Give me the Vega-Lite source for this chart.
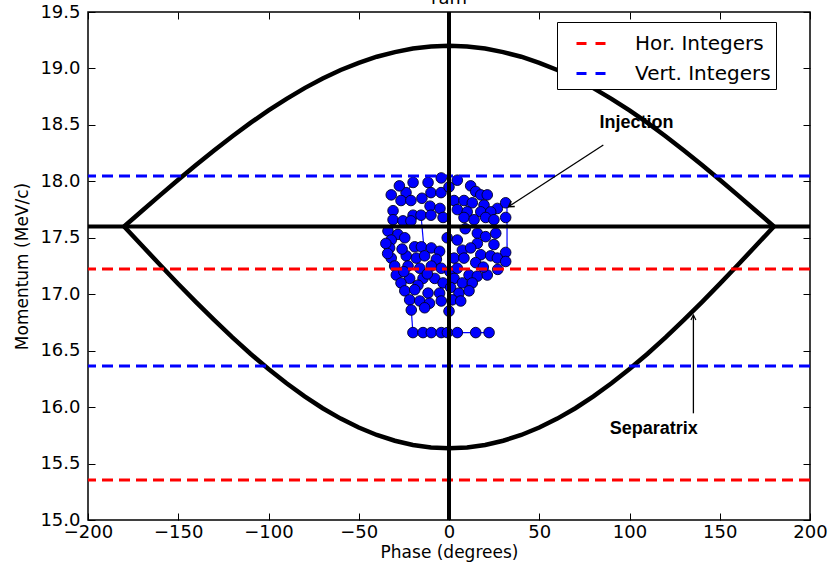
{
  "$schema": "https://vega.github.io/schema/vega-lite/v6.json",
  "width": 722,
  "height": 508,
  "autosize": "none",
  "padding": {"left": 88, "top": 12, "right": 26, "bottom": 43},
  "background": "white",
  "config": {
    "view": {"stroke": "black", "strokeWidth": 1.5},
    "scale": {"continuousPadding": 0},
    "axis": {
      "grid": false,
      "domain": false,
      "labelFlush": false,
      "labelOverlap": false,
      "labelFont": "DejaVu Sans",
      "labelFontSize": 18,
      "labelColor": "black",
      "titleFont": "DejaVu Sans",
      "titleFontSize": 17,
      "titleFontWeight": "normal",
      "titleColor": "black",
      "tickColor": "black",
      "tickWidth": 1,
      "tickSize": -7
    },
    "legend": {
      "orient": "none",
      "legendX": 469,
      "legendY": 10,
      "fillColor": "white",
      "strokeColor": "black",
      "padding": 5,
      "symbolType": "stroke",
      "symbolSize": 900,
      "symbolStrokeWidth": 3,
      "symbolDash": [10, 9],
      "symbolOffset": 13,
      "labelFont": "DejaVu Sans",
      "labelFontSize": 20,
      "labelColor": "black",
      "labelOffset": 27,
      "labelLimit": 300,
      "rowPadding": 3
    }
  },
  "datasets": {
    "sep": [
      {"phase": -180, "p": 17.6, "branch": "upper"},
      {"phase": -170, "p": 17.74, "branch": "upper"},
      {"phase": -160, "p": 17.878, "branch": "upper"},
      {"phase": -150, "p": 18.014, "branch": "upper"},
      {"phase": -140, "p": 18.147, "branch": "upper"},
      {"phase": -130, "p": 18.276, "branch": "upper"},
      {"phase": -120, "p": 18.4, "branch": "upper"},
      {"phase": -110, "p": 18.518, "branch": "upper"},
      {"phase": -100, "p": 18.628, "branch": "upper"},
      {"phase": -90, "p": 18.731, "branch": "upper"},
      {"phase": -80, "p": 18.826, "branch": "upper"},
      {"phase": -70, "p": 18.911, "branch": "upper"},
      {"phase": -60, "p": 18.986, "branch": "upper"},
      {"phase": -50, "p": 19.05, "branch": "upper"},
      {"phase": -40, "p": 19.104, "branch": "upper"},
      {"phase": -30, "p": 19.145, "branch": "upper"},
      {"phase": -20, "p": 19.176, "branch": "upper"},
      {"phase": -10, "p": 19.194, "branch": "upper"},
      {"phase": 0, "p": 19.2, "branch": "upper"},
      {"phase": 10, "p": 19.194, "branch": "upper"},
      {"phase": 20, "p": 19.176, "branch": "upper"},
      {"phase": 30, "p": 19.145, "branch": "upper"},
      {"phase": 40, "p": 19.104, "branch": "upper"},
      {"phase": 50, "p": 19.05, "branch": "upper"},
      {"phase": 60, "p": 18.986, "branch": "upper"},
      {"phase": 70, "p": 18.911, "branch": "upper"},
      {"phase": 80, "p": 18.826, "branch": "upper"},
      {"phase": 90, "p": 18.731, "branch": "upper"},
      {"phase": 100, "p": 18.628, "branch": "upper"},
      {"phase": 110, "p": 18.518, "branch": "upper"},
      {"phase": 120, "p": 18.4, "branch": "upper"},
      {"phase": 130, "p": 18.276, "branch": "upper"},
      {"phase": 140, "p": 18.147, "branch": "upper"},
      {"phase": 150, "p": 18.014, "branch": "upper"},
      {"phase": 160, "p": 17.878, "branch": "upper"},
      {"phase": 170, "p": 17.74, "branch": "upper"},
      {"phase": 180, "p": 17.6, "branch": "upper"},
      {"phase": -180, "p": 17.6, "branch": "lower"},
      {"phase": -170, "p": 17.429, "branch": "lower"},
      {"phase": -160, "p": 17.259, "branch": "lower"},
      {"phase": -150, "p": 17.091, "branch": "lower"},
      {"phase": -140, "p": 16.928, "branch": "lower"},
      {"phase": -130, "p": 16.77, "branch": "lower"},
      {"phase": -120, "p": 16.618, "branch": "lower"},
      {"phase": -110, "p": 16.473, "branch": "lower"},
      {"phase": -100, "p": 16.337, "branch": "lower"},
      {"phase": -90, "p": 16.211, "branch": "lower"},
      {"phase": -80, "p": 16.095, "branch": "lower"},
      {"phase": -70, "p": 15.99, "branch": "lower"},
      {"phase": -60, "p": 15.898, "branch": "lower"},
      {"phase": -50, "p": 15.819, "branch": "lower"},
      {"phase": -40, "p": 15.753, "branch": "lower"},
      {"phase": -30, "p": 15.702, "branch": "lower"},
      {"phase": -20, "p": 15.665, "branch": "lower"},
      {"phase": -10, "p": 15.642, "branch": "lower"},
      {"phase": 0, "p": 15.635, "branch": "lower"},
      {"phase": 10, "p": 15.642, "branch": "lower"},
      {"phase": 20, "p": 15.665, "branch": "lower"},
      {"phase": 30, "p": 15.702, "branch": "lower"},
      {"phase": 40, "p": 15.753, "branch": "lower"},
      {"phase": 50, "p": 15.819, "branch": "lower"},
      {"phase": 60, "p": 15.898, "branch": "lower"},
      {"phase": 70, "p": 15.99, "branch": "lower"},
      {"phase": 80, "p": 16.095, "branch": "lower"},
      {"phase": 90, "p": 16.211, "branch": "lower"},
      {"phase": 100, "p": 16.337, "branch": "lower"},
      {"phase": 110, "p": 16.473, "branch": "lower"},
      {"phase": 120, "p": 16.618, "branch": "lower"},
      {"phase": 130, "p": 16.77, "branch": "lower"},
      {"phase": 140, "p": 16.928, "branch": "lower"},
      {"phase": 150, "p": 17.091, "branch": "lower"},
      {"phase": 160, "p": 17.259, "branch": "lower"},
      {"phase": 170, "p": 17.429, "branch": "lower"},
      {"phase": 180, "p": 17.6, "branch": "lower"}
    ],
    "pts": [
      {"phase": -4.3, "p": 18.03}, {"phase": -11.6, "p": 17.99}, {"phase": -19.9, "p": 17.99}, {"phase": -32.0, "p": 17.88},
      {"phase": -23.8, "p": 17.9}, {"phase": -26.6, "p": 17.83}, {"phase": -21.1, "p": 17.83}, {"phase": -10.0, "p": 17.9},
      {"phase": -4.4, "p": 17.9}, {"phase": -10.5, "p": 17.78}, {"phase": -5.0, "p": 17.76}, {"phase": -31.0, "p": 17.74},
      {"phase": -19.9, "p": 17.7}, {"phase": -15.5, "p": 17.7}, {"phase": -10.0, "p": 17.7}, {"phase": -31.0, "p": 17.66},
      {"phase": -25.5, "p": 17.65}, {"phase": -21.1, "p": 17.65}, {"phase": -3.3, "p": 17.68}, {"phase": -33.8, "p": 17.56},
      {"phase": -28.3, "p": 17.53}, {"phase": -32.0, "p": 17.48}, {"phase": -24.5, "p": 17.5}, {"phase": -32.9, "p": 17.41},
      {"phase": -19.0, "p": 17.42}, {"phase": -15.3, "p": 17.42}, {"phase": -9.8, "p": 17.41}, {"phase": -5.2, "p": 17.38},
      {"phase": -32.0, "p": 17.32}, {"phase": -23.7, "p": 17.34}, {"phase": -18.1, "p": 17.32}, {"phase": -13.5, "p": 17.34},
      {"phase": -7.0, "p": 17.31}, {"phase": -30.1, "p": 17.25}, {"phase": -22.7, "p": 17.25}, {"phase": -16.2, "p": 17.23},
      {"phase": -9.8, "p": 17.25}, {"phase": -4.3, "p": 17.23}, {"phase": -29.2, "p": 17.17}, {"phase": -21.8, "p": 17.14},
      {"phase": -14.4, "p": 17.14}, {"phase": -7.9, "p": 17.14}, {"phase": -26.6, "p": 17.1}, {"phase": -17.2, "p": 17.08},
      {"phase": -3.3, "p": 17.1}, {"phase": -24.5, "p": 17.03}, {"phase": -19.0, "p": 17.04}, {"phase": -11.6, "p": 17.01},
      {"phase": -5.2, "p": 17.01}, {"phase": -21.8, "p": 16.95}, {"phase": -16.2, "p": 16.94}, {"phase": -10.8, "p": 16.92},
      {"phase": -4.3, "p": 16.94}, {"phase": -20.9, "p": 16.86}, {"phase": -13.5, "p": 16.88}, {"phase": -20.0, "p": 16.66},
      {"phase": -14.4, "p": 16.66}, {"phase": -9.8, "p": 16.66}, {"phase": -4.3, "p": 16.66}, {"phase": -35.0, "p": 17.45},
      {"phase": -34.0, "p": 17.36}, {"phase": 0.0, "p": 17.95}, {"phase": -1.0, "p": 17.5}, {"phase": 0.5, "p": 17.2},
      {"phase": 0.0, "p": 16.85}, {"phase": -27.5, "p": 17.96}, {"phase": -15.0, "p": 17.85}, {"phase": -26.0, "p": 17.4},
      {"phase": -12.0, "p": 17.18}, {"phase": -25.0, "p": 17.2},
      {"phase": 4.6, "p": 18.01}, {"phase": 12.0, "p": 17.96}, {"phase": 14.8, "p": 17.91}, {"phase": 17.6, "p": 17.88},
      {"phase": 21.2, "p": 17.88}, {"phase": 2.8, "p": 17.83}, {"phase": 8.3, "p": 17.83}, {"phase": 12.9, "p": 17.81},
      {"phase": 19.4, "p": 17.79}, {"phase": 26.8, "p": 17.76}, {"phase": 31.4, "p": 17.81}, {"phase": 4.6, "p": 17.75},
      {"phase": 10.1, "p": 17.73}, {"phase": 17.6, "p": 17.73}, {"phase": 23.1, "p": 17.73}, {"phase": 31.4, "p": 17.68},
      {"phase": 8.3, "p": 17.68}, {"phase": 13.9, "p": 17.66}, {"phase": 20.3, "p": 17.68}, {"phase": 24.9, "p": 17.66},
      {"phase": 15.7, "p": 17.54}, {"phase": 20.3, "p": 17.51}, {"phase": 25.9, "p": 17.54}, {"phase": 4.6, "p": 17.48},
      {"phase": 15.7, "p": 17.45}, {"phase": 24.9, "p": 17.44}, {"phase": 31.4, "p": 17.37}, {"phase": 7.4, "p": 17.39},
      {"phase": 12.0, "p": 17.41}, {"phase": 17.6, "p": 17.35}, {"phase": 23.1, "p": 17.34}, {"phase": 26.8, "p": 17.32},
      {"phase": 31.4, "p": 17.29}, {"phase": 2.8, "p": 17.32}, {"phase": 8.3, "p": 17.32}, {"phase": 14.8, "p": 17.28},
      {"phase": 4.6, "p": 17.23}, {"phase": 11.1, "p": 17.17}, {"phase": 15.7, "p": 17.16}, {"phase": 21.2, "p": 17.17},
      {"phase": 2.8, "p": 17.14}, {"phase": 7.4, "p": 17.1}, {"phase": 12.9, "p": 17.1}, {"phase": 0.9, "p": 17.06},
      {"phase": 5.5, "p": 17.01}, {"phase": 11.1, "p": 17.03}, {"phase": 1.8, "p": 16.95}, {"phase": 6.5, "p": 16.94},
      {"phase": -0.9, "p": 16.66}, {"phase": 4.6, "p": 16.66}, {"phase": 14.8, "p": 16.66}, {"phase": 22.2, "p": 16.66},
      {"phase": 27.0, "p": 17.22}, {"phase": 19.0, "p": 17.24}, {"phase": 9.0, "p": 17.58}
    ],
    "traj": [
      {"phase": -20.0, "p": 16.66, "seg": "a"}, {"phase": 22.2, "p": 16.66, "seg": "a"},
      {"phase": -20.0, "p": 16.66, "seg": "b"}, {"phase": -20.9, "p": 16.86, "seg": "b"},
      {"phase": 32.1, "p": 17.8, "seg": "c"}, {"phase": 32.2, "p": 17.27, "seg": "c"},
      {"phase": -26.6, "p": 17.83, "seg": "d"}, {"phase": -19.9, "p": 17.99, "seg": "d"},
      {"phase": -13.5, "p": 17.34, "seg": "e"}, {"phase": -15.5, "p": 17.7, "seg": "e"},
      {"phase": 8.3, "p": 17.83, "seg": "f"}, {"phase": 13.9, "p": 17.66, "seg": "f"}
    ],
    "levels": [
      {"p": 17.224, "kind": "Hor. Integers"},
      {"p": 15.355, "kind": "Hor. Integers"},
      {"p": 18.047, "kind": "Vert. Integers"},
      {"p": 16.365, "kind": "Vert. Integers"}
    ],
    "notes": [
      {"phase": 103.9, "p": 18.473, "label": "Injection"},
      {"phase": 113.5, "p": 15.76, "label": "Separatrix"}
    ],
    "arrows": [
      {"phase": 85.5, "p": 18.322, "phase2": 32.9, "p2": 17.775},
      {"phase": 135.4, "p": 15.945, "phase2": 135.4, "p2": 16.816}
    ]
  },
  "layer": [
    {
      "data": {"name": "traj"},
      "mark": {"type": "line", "color": "#0000ff", "strokeWidth": 1.2},
      "encoding": {
        "x": {"field": "phase", "type": "quantitative", "scale": {"domain": [-200, 200], "nice": false, "zero": false, "padding": 0}, "axis": null},
        "y": {"field": "p", "type": "quantitative", "scale": {"domain": [15, 19.5], "nice": false, "zero": false, "padding": 0}, "axis": null},
        "detail": {"field": "seg"}
      }
    },
    {
      "data": {"name": "pts"},
      "mark": {"type": "point", "shape": "circle", "filled": true, "size": 112, "fill": "#0000ff", "stroke": "#000022", "strokeWidth": 0.9, "opacity": 1},
      "encoding": {
        "x": {"field": "phase", "type": "quantitative", "scale": {"domain": [-200, 200], "nice": false, "zero": false, "padding": 0}, "axis": {"title": "Phase (degrees)", "values": [-200, -150, -100, -50, 0, 50, 100, 150, 200], "labelPadding": 10, "titlePadding": 3}},
        "y": {"field": "p", "type": "quantitative", "scale": {"domain": [15, 19.5], "nice": false, "zero": false, "padding": 0}, "axis": {"title": "Momentum (MeV/c)", "values": [15, 15.5, 16, 16.5, 17, 17.5, 18, 18.5, 19, 19.5], "format": ".1f", "labelPadding": 15, "titlePadding": 8}}
      }
    },
    {
      "data": {"name": "sep"},
      "mark": {"type": "line", "color": "black", "strokeWidth": 4.5},
      "encoding": {
        "x": {"field": "phase", "type": "quantitative", "scale": {"domain": [-200, 200], "nice": false, "zero": false, "padding": 0}, "axis": null},
        "y": {"field": "p", "type": "quantitative", "scale": {"domain": [15, 19.5], "nice": false, "zero": false, "padding": 0}, "axis": null},
        "detail": {"field": "branch"}
      }
    },
    {
      "data": {"name": "levels"},
      "mark": {"type": "rule", "strokeWidth": 3, "strokeDash": [11, 6]},
      "encoding": {
        "y": {"field": "p", "type": "quantitative", "scale": {"domain": [15, 19.5], "nice": false, "zero": false, "padding": 0}, "axis": null},
        "color": {"field": "kind", "type": "nominal", "scale": {"domain": ["Hor. Integers", "Vert. Integers"], "range": ["#ff0000", "#0000ff"]}, "legend": {"title": null, "labelExpr": "datum.label + '\u00a0\u00a0\u00a0'"}}
      }
    },
    {
      "data": {"values": [{"p": 17.6}]},
      "mark": {"type": "rule", "color": "black", "strokeWidth": 4},
      "encoding": {"y": {"field": "p", "type": "quantitative", "scale": {"domain": [15, 19.5], "nice": false, "zero": false, "padding": 0}, "axis": {"orient": "right", "labels": false, "title": null, "values": [15, 15.5, 16, 16.5, 17, 17.5, 18, 18.5, 19, 19.5]}}}
    },
    {
      "data": {"values": [{"phase": 0}]},
      "mark": {"type": "rule", "color": "black", "strokeWidth": 4},
      "encoding": {"x": {"field": "phase", "type": "quantitative", "scale": {"domain": [-200, 200], "nice": false, "zero": false, "padding": 0}, "axis": {"orient": "top", "labels": false, "title": null, "values": [-200, -150, -100, -50, 0, 50, 100, 150, 200]}}}
    },
    {
      "data": {"name": "arrows"},
      "mark": {"type": "rule", "color": "black", "strokeWidth": 1.3},
      "encoding": {
        "x": {"field": "phase", "type": "quantitative", "scale": {"domain": [-200, 200], "nice": false, "zero": false, "padding": 0}, "axis": null},
        "y": {"field": "p", "type": "quantitative", "scale": {"domain": [15, 19.5], "nice": false, "zero": false, "padding": 0}, "axis": null},
        "x2": {"field": "phase2"},
        "y2": {"field": "p2"}
      }
    },
    {
      "data": {"values": [{"phase": 32.9, "p": 17.775}]},
      "mark": {"type": "point", "shape": "M -0.6 1 L 0 0 L 0.6 1", "filled": false, "stroke": "black", "strokeWidth": 1.3, "size": 120, "angle": 237, "opacity": 1},
      "encoding": {
        "x": {"field": "phase", "type": "quantitative", "scale": {"domain": [-200, 200], "nice": false, "zero": false, "padding": 0}, "axis": null},
        "y": {"field": "p", "type": "quantitative", "scale": {"domain": [15, 19.5], "nice": false, "zero": false, "padding": 0}, "axis": null}
      }
    },
    {
      "data": {"values": [{"phase": 135.4, "p": 16.816}]},
      "mark": {"type": "point", "shape": "M -0.5 1 L 0 0 L 0.5 1", "filled": false, "stroke": "black", "strokeWidth": 1.2, "size": 100, "opacity": 1},
      "encoding": {
        "x": {"field": "phase", "type": "quantitative", "scale": {"domain": [-200, 200], "nice": false, "zero": false, "padding": 0}, "axis": null},
        "y": {"field": "p", "type": "quantitative", "scale": {"domain": [15, 19.5], "nice": false, "zero": false, "padding": 0}, "axis": null}
      }
    },
    {
      "data": {"name": "notes"},
      "mark": {"type": "text", "font": "Liberation Sans", "fontWeight": "bold", "fontSize": 18, "color": "black", "align": "center", "baseline": "alphabetic"},
      "encoding": {
        "x": {"field": "phase", "type": "quantitative", "scale": {"domain": [-200, 200], "nice": false, "zero": false, "padding": 0}, "axis": null},
        "y": {"field": "p", "type": "quantitative", "scale": {"domain": [15, 19.5], "nice": false, "zero": false, "padding": 0}, "axis": null},
        "text": {"field": "label"}
      }
    },
    {
      "data": {"values": [{"phase": 0, "p": 19.57, "label": "ram"}]},
      "mark": {"type": "text", "font": "DejaVu Sans", "fontSize": 18, "color": "black", "align": "center", "baseline": "alphabetic"},
      "encoding": {
        "x": {"field": "phase", "type": "quantitative", "scale": {"domain": [-200, 200], "nice": false, "zero": false, "padding": 0}, "axis": null},
        "y": {"field": "p", "type": "quantitative", "scale": {"domain": [15, 19.5], "nice": false, "zero": false, "padding": 0}, "axis": null},
        "text": {"field": "label"}
      }
    }
  ],
  "resolve": {"axis": {"x": "independent", "y": "independent"}}
}
